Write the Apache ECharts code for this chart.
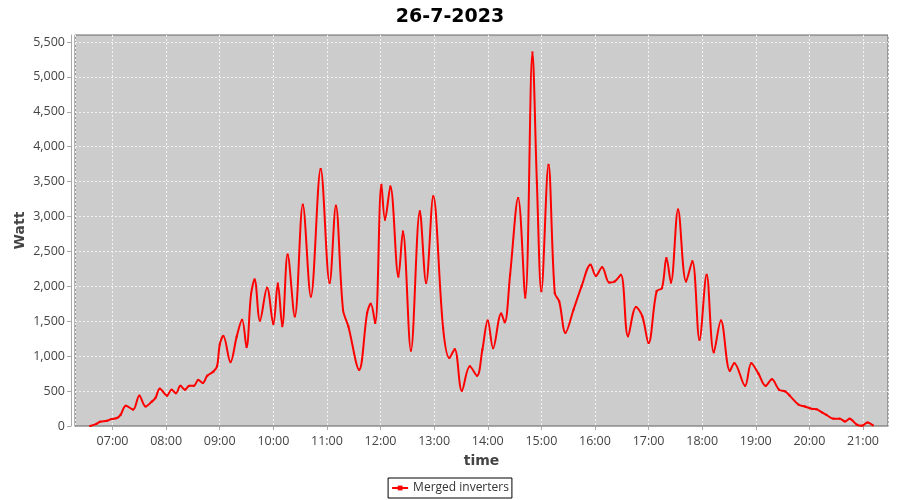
<!DOCTYPE html>
<html>
<head>
<meta charset="utf-8">
<script src="https://cdn.jsdelivr.net/npm/echarts@6/dist/echarts.min.js"></script>
<style>html,body{margin:0;padding:0;background:#fff}#c{width:900px;height:500px}</style>
</head>
<body>
<div id="c"></div>
<script>
var title = '26-7-2023';
var seriesName = 'Merged inverters';
var times = ['06:35','06:42','06:46','06:54','06:59','07:05','07:09','07:15','07:23','07:30','07:37','07:44','07:48','07:53','08:01','08:06','08:11','08:16','08:21','08:26','08:31','08:36','08:41','08:46','08:53','08:57','09:00','09:04','09:12','09:19','09:25','09:30','09:35','09:39','09:45','09:53','10:00','10:05','10:10','10:16','10:24','10:33','10:42','10:53','11:03','11:10','11:18','11:24','11:36','11:45','11:49','11:54','12:01','12:05','12:11','12:20','12:25','12:34','12:44','12:51','12:59','13:10','13:17','13:23','13:31','13:40','13:48','13:54','14:00','14:06','14:15','14:19','14:25','14:34','14:42','14:50','14:55','15:00','15:08','15:15','15:20','15:27','15:36','15:45','15:55','16:01','16:08','16:16','16:22','16:29','16:37','16:46','16:53','17:00','17:09','17:15','17:20','17:25','17:33','17:42','17:49','17:57','18:05','18:13','18:21','18:31','18:36','18:48','18:55','19:03','19:11','19:18','19:26','19:33','19:38','19:48','19:55','20:03','20:08','20:14','20:19','20:27','20:34','20:40','20:45','20:53','20:59','21:05','21:11'];
var watts = [0,30,60,75,100,115,160,290,235,435,280,350,400,535,435,520,470,575,520,575,575,660,615,720,780,855,1165,1290,915,1280,1520,1130,1880,2100,1510,1980,1460,2040,1430,2455,1570,3170,1855,3680,2050,3155,1665,1425,805,1620,1750,1475,3455,2955,3430,2140,2785,1080,3075,2050,3290,1405,975,1100,505,855,720,1095,1510,1115,1610,1485,2165,3265,1840,5350,3480,1930,3740,1905,1785,1335,1665,2000,2310,2150,2275,2055,2070,2165,1285,1705,1570,1190,1930,1975,2405,2055,3100,2070,2360,1235,2165,1055,1510,790,900,575,900,750,575,670,520,495,435,305,280,245,240,195,160,105,105,65,105,20,5,50,10];
var yTicks = [0,500,1000,1500,2000,2500,3000,3500,4000,4500,5000,5500];
var axisStart = '06:18';
var axisEnd = '21:28';

function ts(s){var p=s.split(':');return new Date(2023,6,26,+p[0],+p[1]).getTime();}
var data = times.map(function(t,i){return [ts(t), watts[i]];});

var chart = echarts.init(document.getElementById('c'), null, {renderer:'canvas'});
var font = 'DejaVu Sans';
var tickFont = 'Open Sans';
chart.setOption({
  animation:false,
  backgroundColor:'#ffffff',
  title:{text:title,left:'center',top:3,textStyle:{fontFamily:font,fontWeight:'bold',fontSize:19,color:'#000'}},
  legend:{
    data:[seriesName],bottom:2,left:'center',
    backgroundColor:'#fff',borderColor:'#000',borderWidth:1,padding:[4,3,4,3],
    itemWidth:16,itemHeight:6,itemGap:4,
    textStyle:{fontFamily:tickFont,fontSize:12,color:'#333'}
  },
  grid:{left:75,right:12,top:35,bottom:74,show:true,backgroundColor:'#cccccc',borderColor:'#666666',borderWidth:1,containLabel:false},
  xAxis:{
    type:'time',min:ts(axisStart),max:ts(axisEnd),
    minInterval:3600000,maxInterval:3600000,
    offset:4,
    name:'time',nameLocation:'middle',nameGap:24,nameMoveOverlap:false,
    nameTextStyle:{fontFamily:font,fontWeight:'bold',fontSize:14,color:'#444'},
    axisLine:{show:true,lineStyle:{color:'#aaaaaa',width:1}},
    axisTick:{show:true,length:4,lineStyle:{color:'#aaaaaa'}},
    axisLabel:{formatter:'{HH}:{mm}',fontFamily:tickFont,fontSize:12.5,color:'#444',margin:5,showMinLabel:false,showMaxLabel:false},
    splitLine:{show:true,lineStyle:{color:'#f2f2f2',type:[2,2],width:1}}
  },
  yAxis:{
    type:'value',min:0,max:5600,interval:500,
    offset:4,
    name:'Watt',nameLocation:'middle',nameGap:44,nameMoveOverlap:false,
    nameTextStyle:{fontFamily:font,fontWeight:'bold',fontSize:14,color:'#444'},
    axisLine:{show:true,lineStyle:{color:'#aaaaaa',width:1}},
    axisTick:{show:true,length:4,lineStyle:{color:'#aaaaaa'},customValues:yTicks},
    axisLabel:{fontFamily:tickFont,fontSize:12.5,color:'#444',margin:6,customValues:yTicks,
      formatter:function(v){return v.toLocaleString('en-US');}},
    splitLine:{show:true,lineStyle:{color:'#f2f2f2',type:[2,2],width:1}}
  },
  series:[{
    name:seriesName,type:'line',data:data,smooth:0.35,
    symbol:'rect',symbolSize:2,showSymbol:true,
    itemStyle:{color:'#ff0000'},
    lineStyle:{color:'#ff0000',width:2}
  }]
});
</script>
</body>
</html>
